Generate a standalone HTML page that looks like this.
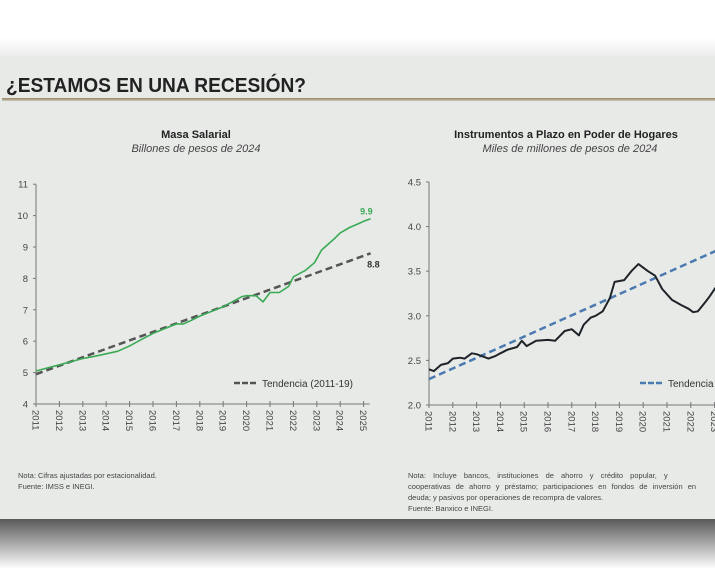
<!DOCTYPE html>
<html><head><meta charset="utf-8"><style>
html,body{margin:0;padding:0;width:715px;height:576px;overflow:hidden;background:#fff;font-family:"Liberation Sans",sans-serif}
</style></head><body>
<svg width="715" height="576" viewBox="0 0 715 576" xmlns="http://www.w3.org/2000/svg">
<defs>
<linearGradient id="topg" x1="0" y1="0" x2="0" y2="1"><stop offset="0" stop-color="#fff"/><stop offset="1" stop-color="#e9ebe9"/></linearGradient>
<linearGradient id="shd" x1="0" y1="0" x2="0" y2="1"><stop offset="0" stop-color="#5a5a5a"/><stop offset="0.4" stop-color="#9a9a9a"/><stop offset="1" stop-color="#fff"/></linearGradient>
<linearGradient id="rule" x1="0" y1="0" x2="0" y2="1"><stop offset="0" stop-color="#9a8660"/><stop offset="1" stop-color="#c8c8c0"/></linearGradient>
</defs>
<rect x="0" y="38" width="715" height="20" fill="url(#topg)"/>
<rect x="0" y="56" width="715" height="464" fill="#e8eae8"/>
<rect x="0" y="519" width="715" height="50" fill="url(#shd)"/>
<text x="6" y="92" font-size="20" font-weight="bold" fill="#222" textLength="300" lengthAdjust="spacingAndGlyphs">¿ESTAMOS EN UNA RECESIÓN?</text>
<rect x="2" y="98" width="713" height="3" fill="url(#rule)"/>

<text x="196" y="138" font-size="11" font-weight="bold" text-anchor="middle" fill="#222">Masa Salarial</text>
<text x="196" y="152" font-size="11" font-style="italic" text-anchor="middle" fill="#444">Billones de pesos de 2024</text>
<text x="566" y="138" font-size="11" font-weight="bold" text-anchor="middle" fill="#222">Instrumentos a Plazo en Poder de Hogares</text>
<text x="570" y="152" font-size="11" font-style="italic" text-anchor="middle" fill="#444">Miles de millones de pesos de 2024</text>

<g id="left"></g>
<g id="right"></g>

<g font-size="7.5" fill="#444">
<text x="18" y="478">Nota: Cifras ajustadas por estacionalidad.</text>
<text x="18" y="489">Fuente: IMSS e INEGI.</text>
</g>
<g font-size="7.5" fill="#444">
<text x="408" y="478" word-spacing="5">Nota: Incluye bancos, instituciones de ahorro y crédito popular, y</text>
<text x="408" y="489" word-spacing="3">cooperativas de ahorro y préstamo; participaciones en fondos de inversión en</text>
<text x="408" y="500">deuda; y pasivos por operaciones de recompra de valores.</text>
<text x="408" y="511">Fuente: Banxico e INEGI.</text>
</g>
</svg>
<script>
const NS="http://www.w3.org/2000/svg";
// Left chart data
const leftYears=[2011,2011.5,2012,2012.5,2013,2013.5,2014,2014.5,2015,2015.5,2016,2016.5,2017,2017.3,2017.6,2018,2018.5,2019,2019.5,2019.8,2020,2020.4,2020.7,2021,2021.4,2021.8,2022,2022.5,2022.9,2023.2,2023.5,2023.8,2024,2024.4,2024.8,2025,2025.3];
const leftValues=[5.05,5.15,5.25,5.35,5.45,5.52,5.6,5.68,5.85,6.05,6.25,6.4,6.55,6.55,6.65,6.8,6.95,7.1,7.3,7.42,7.45,7.45,7.25,7.55,7.55,7.75,8.05,8.25,8.5,8.9,9.1,9.3,9.45,9.62,9.75,9.82,9.9];
const leftTrendYears=[2011,2025.3];
const leftTrendValues=[4.95,8.8];
const leftYTicks=[4,5,6,7,8,9,10,11];
const xTickYears=[2011,2012,2013,2014,2015,2016,2017,2018,2019,2020,2021,2022,2023,2024,2025];
// Right chart data
const rightYears=[2011,2011.2,2011.5,2011.8,2012,2012.3,2012.5,2012.8,2013,2013.2,2013.5,2013.8,2014,2014.3,2014.7,2014.9,2015.1,2015.5,2016,2016.3,2016.7,2017,2017.3,2017.5,2017.8,2018,2018.3,2018.6,2018.8,2019.2,2019.5,2019.8,2020.2,2020.5,2020.8,2021.2,2021.6,2021.9,2022.1,2022.3,2022.6,2022.8,2023,2023.3];
const rightValues=[2.40,2.38,2.45,2.47,2.52,2.53,2.52,2.58,2.57,2.55,2.52,2.55,2.58,2.62,2.65,2.72,2.66,2.72,2.73,2.72,2.83,2.85,2.78,2.9,2.98,3.0,3.05,3.2,3.38,3.4,3.5,3.58,3.5,3.45,3.3,3.18,3.12,3.08,3.04,3.05,3.15,3.22,3.3,3.4];
const rightTrendYears=[2011,2025];
const rightTrendValues=[2.29,3.96];
const rightYTicks=[2.0,2.5,3.0,3.5,4.0,4.5];

function el(tag,attrs,parent,text){const e=document.createElementNS(NS,tag);for(const k in attrs)e.setAttribute(k,attrs[k]);if(text!==undefined)e.textContent=text;parent.appendChild(e);return e;}

function chart(g,cfg){
  const xs=y=>cfg.x0+(y-2011)*cfg.xs;
  const ys=v=>cfg.yb-(v-cfg.vmin)*cfg.vs;
  const clip=el('clipPath',{id:cfg.id+'clip'},g);
  el('rect',{x:cfg.x0-2,y:170,width:715-cfg.x0+2,height:250},clip);
  const ax=el('path',{d:`M${cfg.x0},${ys(cfg.yt[cfg.yt.length-1])}V${cfg.yb}H${Math.min(715,xs(2025)+6)}`,stroke:'#777',fill:'none','stroke-width':1},g);
  
  
  cfg.yt.forEach(t=>{
    el('line',{x1:cfg.x0-3,x2:cfg.x0,y1:ys(t),y2:ys(t),stroke:'#777'},g);
    const tx=el('text',{x:cfg.x0-8,y:ys(t)+3.5,'font-size':9.5,'text-anchor':'end',fill:'#444'},g,cfg.fmt(t));
    
    
  });
  xTickYears.forEach(yr=>{
    const x=xs(yr); if(x>715)return;
    el('line',{x1:x,x2:x,y1:cfg.yb-3,y2:cfg.yb+3,stroke:'#777'},g);
    const tx=el('text',{x:0,y:0,'font-size':9.5,fill:'#444',transform:`translate(${x-3.5},${cfg.yb+6}) rotate(90)`},g,String(yr));
    
    
  });
  const tr=el('path',{d:cfg.ty.map((y,i)=>(i?'L':'M')+xs(y)+','+ys(cfg.tv[i])).join(''),stroke:cfg.tc,'stroke-width':2.5,'stroke-dasharray':'7,4',fill:'none','clip-path':`url(#${cfg.id}clip)`},g);
  
  
  const ln=el('path',{d:cfg.dy.map((y,i)=>(i?'L':'M')+xs(y).toFixed(1)+','+ys(cfg.dv[i]).toFixed(1)).join(''),stroke:cfg.lc,'stroke-width':cfg.lw,fill:'none','stroke-linejoin':'round','clip-path':`url(#${cfg.id}clip)`},g);
  
  
  const lg=el('g',{},g);
  
  
  el('line',{x1:cfg.lx,x2:cfg.lx+24,y1:383,y2:383,stroke:cfg.tc,'stroke-width':2.5,'stroke-dasharray':'6,2'},lg);
  el('text',{x:cfg.lx+28,y:387,'font-size':10,fill:'#333'},lg,cfg.lt);
  return {xs,ys};
}
const L=chart(document.getElementById('left'),{id:'l',x0:36,xs:23.4,yb:404,vmin:4,vs:31.4,yt:leftYTicks,fmt:t=>String(t),dy:leftYears,dv:leftValues,ty:leftTrendYears,tv:leftTrendValues,tc:'#555',lc:'#3aaa55',lw:1.6,lx:234,lt:'Tendencia (2011-19)'});
const gl=document.getElementById('left');
const a=el('text',{x:L.xs(leftYears[leftYears.length-1])+2,y:L.ys(leftValues[leftValues.length-1])-4,'font-size':9,'font-weight':'bold','text-anchor':'end',fill:'#3aaa55'},gl,leftValues[leftValues.length-1].toFixed(1));


const b=el('text',{x:L.xs(leftTrendYears[1])+9,y:L.ys(leftTrendValues[1])+14,'font-size':9,'font-weight':'bold','text-anchor':'end',fill:'#333'},gl,leftTrendValues[1].toFixed(1));


chart(document.getElementById('right'),{id:'r',x0:429,xs:23.8,yb:405,vmin:2,vs:89.2,yt:rightYTicks,fmt:t=>t.toFixed(1),dy:rightYears,dv:rightValues,ty:rightTrendYears,tv:rightTrendValues,tc:'#4a7ab0',lc:'#1e2328',lw:2,lx:640,lt:'Tendencia (2011-19)'});
</script>
</body></html>
